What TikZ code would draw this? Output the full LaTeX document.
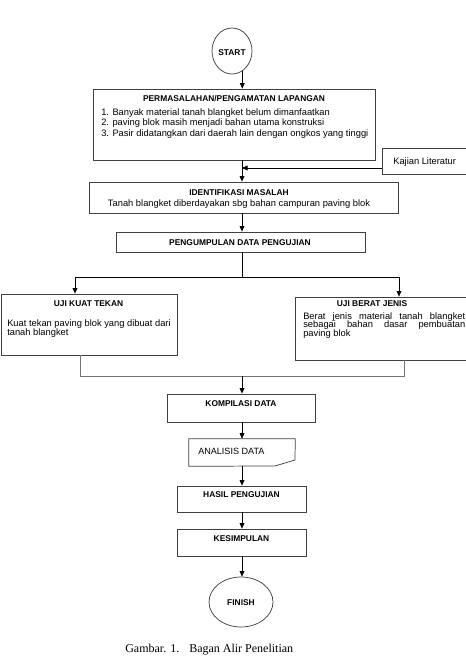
\documentclass[tikz,border=0pt]{standalone}
\usepackage{fontspec}
\setmainfont{Liberation Serif}
\setsansfont{Liberation Sans}
\usetikzlibrary{arrows.meta,fit,shapes.geometric}
\begin{document}
\begin{tikzpicture}[x=0.75pt,y=-0.75pt,
  box/.style={draw=black!75, line width=0.55pt, inner sep=0pt},
  oval/.style={draw=black!75, line width=0.55pt, ellipse, inner sep=0pt},
  arr/.style={-{Triangle[length=4.2pt,width=3.6pt]}, line width=0.55pt, black},
  mline/.style={line width=0.7pt, black!55},
  plain/.style={line width=0.55pt, black},
  tx/.style={font=\sffamily\fontsize{7}{8}\selectfont, inner sep=0pt},
  tb/.style={font=\sffamily\bfseries\fontsize{6.3}{8}\selectfont, inner sep=0pt}]
\useasboundingbox (0,0) rectangle (466,659);

% START
\node[oval, minimum width=30pt, minimum height=34.5pt] (start) at (232,51) {};
\node[tb] (starttxt) at (232,53) {START};

% PERMASALAHAN
\node[box, fit={(93,89) (375,160)}] (perm) {};
\node[tb] (permt) at (234,99) {PERMASALAHAN/PENGAMATAN LAPANGAN};
\node[tx, anchor=west] (perm1) at (101,113) {1. Banyak material tanah blangket belum dimanfaatkan};
\node[tx, anchor=west] (perm2) at (101,123.5) {2. paving blok masih menjadi bahan utama konstruksi};
\node[tx, anchor=west] (perm3) at (101,134) {3. Pasir didatangkan dari daerah lain dengan ongkos yang tinggi};

% Kajian
\node[box, fit={(382,148) (470,174)}] (kaj) {};
\node[tx, anchor=west] (kajt) at (393,162) {Kajian Literatur};
\coordinate (kin) at (242,168);

% IDENTIFIKASI
\node[box, fit={(89,182) (398,213)}] (ident) {};
\node[tb] (identt) at (239,193) {IDENTIFIKASI MASALAH};
\node[tx] (idents) at (239,204) {Tanah blangket diberdayakan sbg bahan campuran paving blok};

% PENGUMPULAN
\node[box, fit={(116,232) (365,252)}] (peng) {};
\node[tb] (pengt) at (240,243) {PENGUMPULAN DATA PENGUJIAN};

% UJI KUAT TEKAN
\node[box, fit={(1,294) (177,355)}] (uk) {};
\node[tb] (ukt) at (88.5,304) {UJI KUAT TEKAN};
\node[tx, anchor=west] (uk1) at (7,324) {Kuat tekan paving blok yang dibuat dari};
\node[tx, anchor=west] (uk2) at (7,333) {tanah blangket};

% UJI BERAT JENIS
\node[box, fit={(295,297) (470,360)}] (ub) {};
\node[tb] (ubt) at (372,304) {UJI BERAT JENIS};
\node[tx, anchor=west] (ub1) at (303,317) {\hbox to 121.5pt{Berat\hfill jenis\hfill material\hfill tanah\hfill blangket}};
\node[tx, anchor=west] (ub2) at (303,325.3) {\hbox to 121.5pt{sebagai\hfill bahan\hfill dasar\hfill pembuatan}};
\node[tx, anchor=west] (ub3) at (303,333.6) {paving blok};

% KOMPILASI
\node[box, fit={(167,394) (315,422)}] (komp) {};
\node[tb] (kompt) at (241,404) {KOMPILASI DATA};

% ANALISIS
\node[inner sep=0pt, fit={(189,439) (295,466)}] (ana) {};
\draw[draw=black!75, line width=0.55pt] (ana.north west) -- (ana.north east) -- (295,460) -- (275,466) -- (ana.south west) -- cycle;
\node[tx, anchor=west, font=\sffamily\fontsize{6.8}{8}\selectfont] (anat) at (198,451) {ANALISIS DATA};

% HASIL
\node[box, fit={(177,486) (306,512)}] (hasil) {};
\node[tb] (hasilt) at (241.5,495) {HASIL PENGUJIAN};

% KESIMPULAN
\node[box, fit={(177,529) (306,556)}] (kes) {};
\node[tb] (kest) at (241.5,539) {KESIMPULAN};

% FINISH
\node[oval, minimum width=48pt, minimum height=37.5pt] (finish) at (241,602) {};
\node[tb] (finisht) at (241,603) {FINISH};

% Caption
\node[inner sep=0pt, anchor=west, font=\rmfamily\fontsize{9}{10}\selectfont] (cap) at (125,650) {Gambar. 1.\hspace{7.5pt}Bagan Alir Penelitian};

% Connectors
\coordinate (ax) at (242,0);
\draw[arr] (start.-63) -- (start.-63 |- perm.north);
\draw[arr] (perm.south -| ax) -- (ident.north -| ax);
\draw[arr] (kaj.west |- kin) -- (kin);
\draw[arr] (ident.south -| ax) -- (peng.north -| ax);

\coordinate (spl) at (75,277);
\coordinate (spr) at (399,277);
\draw[plain] (peng.south -| ax) -- (ax |- spl);
\draw[plain] (spl) -- (spr);
\draw[arr] (spl) -- (spl |- uk.north);
\draw[arr] (spr) -- (spr |- ub.north);

\coordinate (ml) at (80,376);
\coordinate (mr) at (404,376);
\draw[mline] (ml |- uk.south) -- (ml) -- (mr) -- (mr |- ub.south);
\draw[arr] (ax |- ml) -- (komp.north -| ax);

\draw[arr] (komp.south -| ax) -- (ana.north -| ax);
\draw[arr] (ana.south -| ax) -- (hasil.north -| ax);
\draw[arr] (hasil.south -| ax) -- (kes.north -| ax);
\draw[arr] (kes.south -| ax) -- (finish.north -| ax);
\end{tikzpicture}
\end{document}
